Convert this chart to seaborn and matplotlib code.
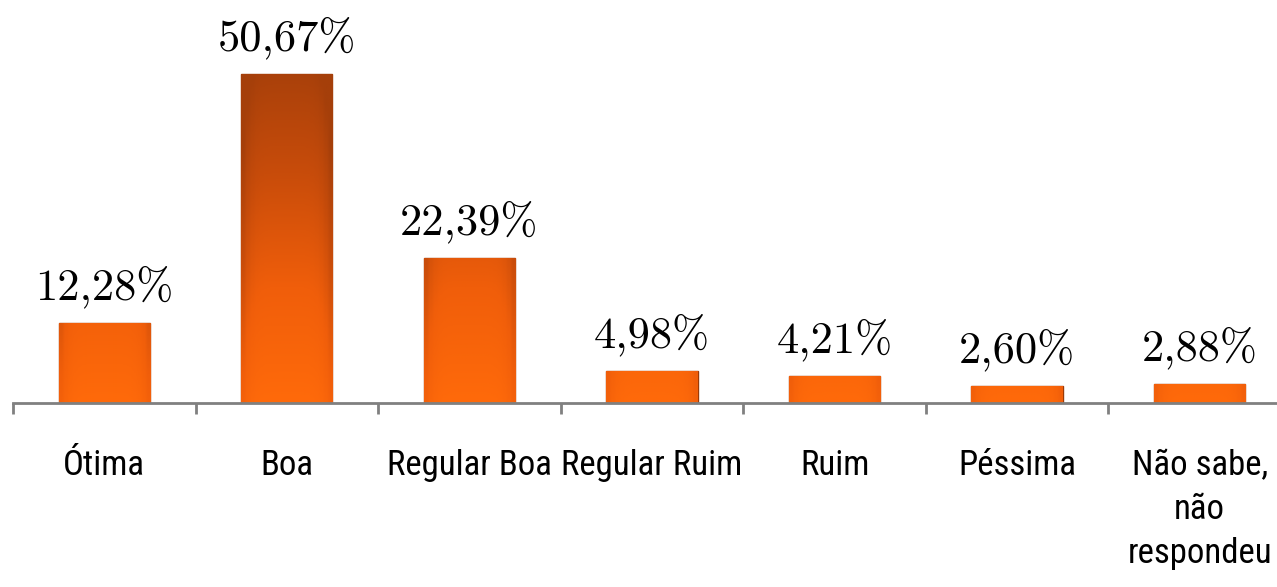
import numpy as np
import pandas as pd
import matplotlib
matplotlib.use('Agg')
import matplotlib.pyplot as plt
import seaborn as sns
from matplotlib import font_manager
from matplotlib.colors import LinearSegmentedColormap

categories = ['Ótima', 'Boa', 'Regular Boa', 'Regular Ruim', 'Ruim', 'Péssima',
              'Não sabe,\nnão\nrespondeu']
values = [12.28, 50.67, 22.39, 4.98, 4.21, 2.60, 2.88]
value_labels = ['12,28%', '50,67%', '22,39%', '4,98%', '4,21%', '2,60%', '2,88%']

sns.set_theme(style='white')
names = {f.name for f in font_manager.fontManager.ttflist}
cat_font = next((f for f in ['Liberation Sans Narrow', 'Arial Narrow', 'Roboto Condensed',
                             'Archivo Narrow', 'Liberation Sans'] if f in names), 'DejaVu Sans')

fig = plt.figure(figsize=(12.77, 5.87), dpi=100)
ax = fig.add_axes([13 / 1277, 184 / 587, 1278 / 1277, 403 / 587])
df = pd.DataFrame({'cat': categories, 'val': values})
sns.barplot(data=df, x='cat', y='val', ax=ax, width=0.5, color='#F06010',
            saturation=1, edgecolor='#9A3A08', linewidth=1.0)
ax.set_xlim(-0.5, 6.5)
ymax = 62.1
ax.set_ylim(0, ymax)

cmap = LinearSegmentedColormap.from_list('o', ['#FF6A0A', '#F05E0A', '#C84C0A', '#A53F0A'])
for p in ax.patches:
    x0, w, h = p.get_x(), p.get_width(), p.get_height()
    ys = np.linspace(0, h, 200)[:, None] / 50.67
    grad = np.repeat(ys, 20, axis=1)
    xs = np.abs(np.linspace(-1, 1, 20))[None, :]
    im = ax.imshow(grad * 0.95 + 0.25 * xs ** 6, extent=(x0, x0 + w, 0, h), origin='lower',
                   cmap=cmap, vmin=0, vmax=1, aspect='auto', zorder=p.get_zorder() + 0.1)
    im.set_clip_path(p)
ax.set_xlim(-0.5, 6.5)
ax.set_ylim(0, ymax)

for i, (v, lab) in enumerate(zip(values, value_labels)):
    ax.annotate(lab, (i, v), xytext=(0, 17), textcoords='offset points',
                ha='center', va='baseline', fontsize=32, family='cmr10', color='black')

for s in ['top', 'right', 'left']:
    ax.spines[s].set_visible(False)
ax.spines['bottom'].set_color('#808080')
ax.spines['bottom'].set_linewidth(2)
ax.set_yticks([])
ax.set_xlabel('')
ax.set_ylabel('')
ax.set_xticks(np.arange(-0.5, 7, 1), minor=True)
ax.tick_params(axis='x', which='minor', length=8, width=2, color='#808080', direction='out', bottom=True)
ax.tick_params(axis='x', which='major', length=0, pad=33)
for t in ax.get_xticklabels():
    t.set_fontfamily(cat_font)
    t.set_fontsize(25)
    t.set_color('black')
    t.set_linespacing(1.42)
    t.set_verticalalignment('top')

fig.savefig('out.png', dpi=100)
